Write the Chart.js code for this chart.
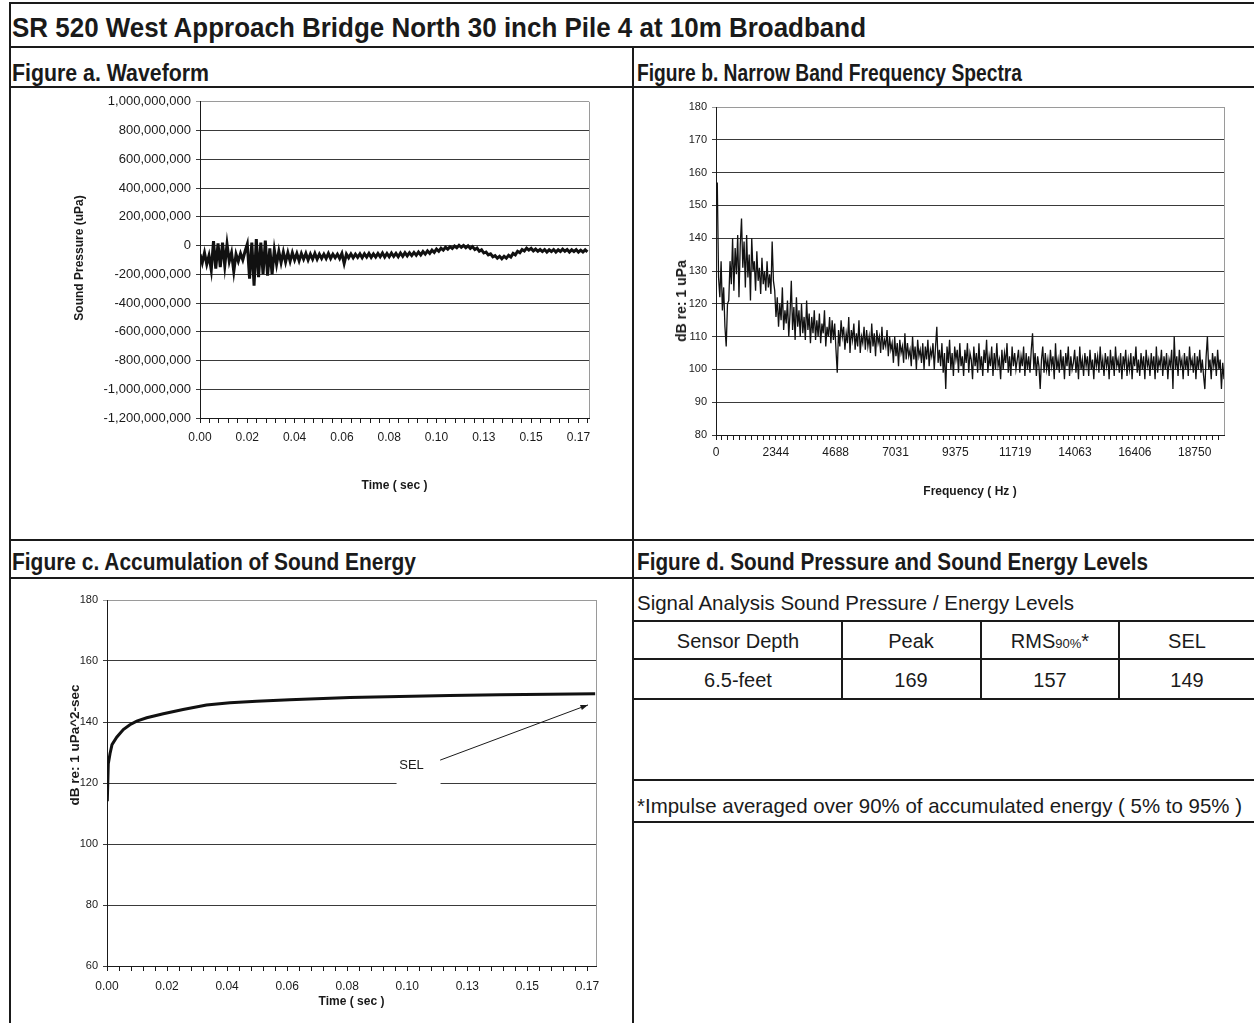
<!DOCTYPE html>
<html lang="en">
<head>
    <meta charset="UTF-8">
    <title>SR 520 West Approach Bridge North 30 inch Pile 4 at 10m Broadband</title>
    <script src="https://cdn.jsdelivr.net/npm/chart.js@4.4.1/dist/chart.umd.min.js"></script>
    <style>
        body { margin: 0; background: #fff; color: #1a1a1a; font-family: "Liberation Sans", Arial, sans-serif; }
        #page { position: relative; width: 1254px; height: 1023px; overflow: hidden; background: #fff; }
        .ln { position: absolute; background: #1a1a1a; }
        .txt { position: absolute; white-space: nowrap; transform-origin: 0 50%; }
        .bold { font-weight: bold; }
        .cell { position: absolute; width: 200px; text-align: center; font-size: 20px; line-height: 24px; white-space: nowrap; }
        .ytitle { position: absolute; white-space: nowrap; font-weight: bold; transform: translate(-50%, -50%) rotate(-90deg); }
        canvas { position: absolute; }
    </style>
</head>
<body>
<div id="page">
    <!-- outer frame and panel dividers -->
    <div class="ln" style="left:9px;top:2px;width:2px;height:1021px"></div>
    <div class="ln" style="left:9px;top:2px;width:1245px;height:2px"></div>
    <div class="ln" style="left:9px;top:46px;width:1245px;height:2px"></div>
    <div class="ln" style="left:9px;top:86px;width:1245px;height:2px"></div>
    <div class="ln" style="left:632px;top:46px;width:2px;height:977px"></div>
    <div class="ln" style="left:9px;top:539px;width:1245px;height:2px"></div>
    <div class="ln" style="left:9px;top:577px;width:1245px;height:2px"></div>

    <!-- figure d table lines -->
    <div class="ln" style="left:632px;top:620px;width:622px;height:2px"></div>
    <div class="ln" style="left:632px;top:658px;width:622px;height:2px"></div>
    <div class="ln" style="left:632px;top:698px;width:622px;height:2px"></div>
    <div class="ln" style="left:632px;top:779px;width:622px;height:2px"></div>
    <div class="ln" style="left:632px;top:821px;width:622px;height:2px"></div>
    <div class="ln" style="left:841px;top:620px;width:2px;height:80px"></div>
    <div class="ln" style="left:980px;top:620px;width:2px;height:80px"></div>
    <div class="ln" style="left:1118px;top:620px;width:2px;height:80px"></div>

    <div class="txt bold" data-w="854" style="left:12px;top:13px;font-size:28px;line-height:30px">SR 520 West Approach Bridge North 30 inch Pile 4 at 10m Broadband</div>
    <div class="txt bold" data-w="197" style="left:12px;top:60px;font-size:23px;line-height:26px">Figure a. Waveform</div>
    <div class="txt bold" data-w="385" style="left:637px;top:60px;font-size:23px;line-height:26px">Figure b. Narrow Band Frequency Spectra</div>
    <div class="txt bold" data-w="404" style="left:12px;top:549px;font-size:23px;line-height:26px">Figure c. Accumulation of Sound Energy</div>
    <div class="txt bold" data-w="511" style="left:637px;top:549px;font-size:23px;line-height:26px">Figure d. Sound Pressure and Sound Energy Levels</div>

    <div class="txt" data-w="437" style="left:637px;top:590px;font-size:21px;line-height:26px">Signal Analysis Sound Pressure / Energy Levels</div>
    <div class="cell" style="left:638px;top:629px">Sensor Depth</div>
    <div class="cell" style="left:811px;top:629px">Peak</div>
    <div class="cell" style="left:950px;top:629px">RMS<span style="font-size:13px">90%</span>*</div>
    <div class="cell" style="left:1087px;top:629px">SEL</div>
    <div class="cell" style="left:638px;top:668px">6.5-feet</div>
    <div class="cell" style="left:811px;top:668px">169</div>
    <div class="cell" style="left:950px;top:668px">157</div>
    <div class="cell" style="left:1087px;top:668px">149</div>
    <div class="txt" data-w="605" style="left:637px;top:793px;font-size:21px;line-height:26px">*Impulse averaged over 90% of accumulated energy ( 5% to 95% )</div>

    <canvas id="chartA" width="618" height="449" style="left:12px;top:89px"></canvas>
    <canvas id="chartB" width="618" height="449" style="left:636px;top:89px"></canvas>
    <canvas id="chartC" width="618" height="443" style="left:12px;top:580px"></canvas>

    <div class="ytitle" style="left:79px;top:258px;font-size:12px">Sound Pressure (uPa)</div>
    <div class="ytitle" style="left:681px;top:301px;font-size:14px">dB re: 1 uPa</div>
    <div class="ytitle" style="left:74px;top:745px;font-size:13.5px">dB re: 1 uPa^2-sec</div>
</div>

<script>
    // figure a: waveform, one reading per millisecond (values in millions of uPa)
    const waveStepSec = 0.001;
    const waveMillionUPa = [
        -60, -120, -50, -130, -70, -170, 30, -160, 15, -150,
        20, -140, 10, -110, -50, -180, -60, -110, -55, -100,
        -40, 10, -230, 20, -280, 45, -220, 20, -200, 35,
        -210, -20, -200, -30, -130, -40, -120, -45, -115, -50,
        -110, -50, -100, -55, -105, -55, -95, -55, -100, -60,
        -95, -55, -95, -60, -90, -60, -90, -55, -90, -60,
        -85, -60, -90, -55, -125, -60, -85, -58, -85, -60,
        -82, -58, -85, -58, -80, -55, -82, -58, -80, -55,
        -78, -52, -80, -55, -78, -52, -76, -55, -78, -52,
        -75, -50, -72, -50, -70, -48, -68, -45, -65, -42,
        -60, -38, -55, -32, -48, -25, -40, -18, -32, -12,
        -25, -8, -20, -3, -15, 2, -12, 0, -15, -2,
        -20, -8, -28, -18, -40, -30, -52, -45, -65, -58,
        -78, -70, -88, -75, -92, -75, -88, -68, -80, -55,
        -65, -40, -50, -28, -38, -18, -32, -20, -38, -25,
        -40, -28, -42, -28, -45, -30, -42, -28, -45, -30,
        -42, -25, -40, -28, -45, -30, -42, -28, -46, -32,
        -45, -30, -44
    ];
    const pressureTicks = [-1200000000, -1000000000, -800000000, -600000000, -400000000, -200000000,
        0, 200000000, 400000000, 600000000, 800000000, 1000000000];
    const pressureLabels = ['-1,200,000,000', '-1,000,000,000', '-800,000,000', '-600,000,000', '-400,000,000',
        '-200,000,000', '0', '200,000,000', '400,000,000', '600,000,000', '800,000,000', '1,000,000,000'];
    const timeLabels = ['0.00', '0.02', '0.04', '0.06', '0.08', '0.10', '0.13', '0.15', '0.17'];
    const timeLabelStep = 0.021;

    // figure b: narrow band spectrum, one reading per 50 Hz
    const specStepHz = 50;
    const specDb = [
        150, 157, 128, 122, 133, 118, 125, 113, 107, 120,
        121, 133, 126, 140, 124, 137, 129, 141, 122, 138,
        146, 131, 139, 125, 141, 128, 135, 121, 140, 130,
        133, 124, 136, 127, 131, 123, 134, 126, 130, 124,
        133, 125, 129, 123, 139, 127, 124, 116, 122, 113,
        120, 115, 125, 112, 118, 114, 121, 110, 117, 127,
        112, 119, 109, 122, 113, 118, 110, 120, 111, 116,
        109, 121, 112, 117, 108, 116, 111, 118, 109, 115,
        110, 117, 108, 114, 111, 118, 107, 113, 110, 116,
        108, 115, 109, 114, 106, 99, 112, 107, 115, 110,
        113, 106, 111, 108, 116, 105, 112, 109, 114, 106,
        111, 107, 115, 105, 110, 108, 113, 106, 112, 107,
        110, 105, 114, 107, 111, 104, 112, 108, 110, 105,
        113, 106, 109, 107, 112, 104, 110, 106, 108, 102,
        110, 104, 108, 101, 109, 105, 107, 102, 111, 103,
        108, 104, 106, 101, 110, 103, 107, 100, 109, 104,
        106, 102, 108, 100, 107, 103, 109, 101, 106, 104,
        108, 100, 107, 113, 102, 106, 101, 108, 99, 105,
        94, 107, 102, 109, 100, 105, 98, 107, 103, 106,
        99, 108, 101, 104, 98, 106, 102, 108, 99, 105,
        103, 97, 107, 101, 105, 99, 108, 100, 104, 98,
        106, 102, 109, 99, 104, 101, 107, 98, 105, 100,
        108, 101, 103, 97, 106, 100, 105, 102, 108, 99,
        104, 98, 107, 101, 105, 100, 103, 106, 99, 104,
        101, 107, 98, 105, 100, 104, 99, 106, 111, 100,
        105, 98, 104, 101, 94, 103, 107, 99, 105, 100,
        103, 98, 106, 101, 104, 97, 108, 100, 103, 99,
        106, 100, 104, 97, 105, 101, 107, 98, 104, 100,
        102, 106, 99, 104, 97, 107, 100, 103, 98, 105,
        101, 104, 98, 106, 100, 103, 97, 105, 101, 104,
        99, 107, 100, 103, 98, 105, 101, 104, 97, 106,
        100, 104, 98, 107, 101, 103, 99, 105, 97, 104,
        101, 106, 98, 103, 100, 105, 97, 104, 101, 107,
        99, 103, 98, 105, 100, 104, 97, 106, 101, 103,
        98, 105, 100, 104, 97, 107, 99, 103, 101, 106,
        98, 104, 100, 105, 97, 103, 101, 106, 94, 110,
        100, 104, 98, 106, 101, 103, 97, 105, 100, 104,
        98, 107, 101, 103, 99, 105, 97, 104, 100, 106,
        99, 103, 98, 94, 104, 110, 100, 103, 97, 105,
        101, 104, 98, 106, 100, 103, 94, 102, 97
    ];
    const specTicks = [80, 90, 100, 110, 120, 130, 140, 150, 160, 170, 180];
    const specLabels = ['80', '90', '100', '110', '120', '130', '140', '150', '160', '170', '180'];
    const freqLabels = ['0', '2344', '4688', '7031', '9375', '11719', '14063', '16406', '18750'];
    const freqLabelStep = 2343.75;

    // figure c: accumulated sound energy
    const selTimeSec = [0.0001, 0.00045, 0.00105, 0.00175, 0.0034, 0.0057, 0.008, 0.0104, 0.0139, 0.0197,
        0.0266, 0.0348, 0.043, 0.0523, 0.0639, 0.0849, 0.1023, 0.1198, 0.1373, 0.1547, 0.1707];
    const selDb = [114, 126.3, 129.6, 132.6, 135, 137.5, 139.1, 140.3, 141.4, 142.7,
        144.1, 145.6, 146.3, 146.8, 147.3, 148.0, 148.4, 148.7, 148.9, 149.1, 149.3];
    const selTicks = [60, 80, 100, 120, 140, 160, 180];
    const selLabels = ['60', '80', '100', '120', '140', '160', '180'];
    const selNote = { text: 'SEL', at: [0.1065, 125.6], from: [0.1165, 127.5], to: [0.1682, 145.6] };

    // stretch header texts to the widths seen in the original
    document.querySelectorAll('[data-w]').forEach(el => {
        const k = +el.dataset.w / el.getBoundingClientRect().width;
        el.style.transform = `scaleX(${k})`;
    });

    Chart.defaults.font.family = '"Liberation Sans", Arial, sans-serif';
    Chart.defaults.color = '#1a1a1a';

    function stepTicks(max, step) {
        const out = [];
        for (let i = 0; i * step <= max + 1e-9; i++) out.push({ value: i * step });
        return out;
    }

    function xScale(max, minorStep, perLabel, labels, title, height, pad) {
        return {
            type: 'linear', min: 0, max: max,
            afterBuildTicks: s => { s.ticks = stepTicks(max, minorStep); },
            afterFit: s => { s.height = height; },
            ticks: {
                autoSkip: false, maxRotation: 0, minRotation: 0, padding: pad, font: { size: 12 },
                callback: (v, i) => i % perLabel === 0 ? (labels[i / perLabel] ?? '') : ''
            },
            grid: { drawOnChartArea: false, tickLength: 5, color: '#1a1a1a' },
            border: { color: '#1a1a1a' },
            title: { display: true, text: title, padding: 0, font: { size: 12, weight: 'bold' } }
        };
    }

    function yScale(values, labels, width, size) {
        const top = values[values.length - 1];
        return {
            type: 'linear', min: values[0], max: top,
            afterBuildTicks: s => { s.ticks = values.map(v => ({ value: v })); },
            afterFit: s => { s.width = width; },
            ticks: { autoSkip: false, padding: 5, font: { size: size }, callback: (v, i) => labels[i] },
            grid: { tickLength: 4, color: c => c.tick && c.tick.value === top ? '#9a9a9a' : '#3a3a3a' },
            border: { color: '#1a1a1a' }
        };
    }

    // gray right edge of the plot area, like the original
    const plotFrame = {
        id: 'plotFrame',
        beforeDatasetsDraw(chart) {
            const { ctx, chartArea: a } = chart;
            const x = Math.round(a.right) + 0.5;
            ctx.save();
            ctx.strokeStyle = '#9a9a9a';
            ctx.lineWidth = 1;
            ctx.beginPath();
            ctx.moveTo(x, a.top);
            ctx.lineTo(x, a.bottom);
            ctx.stroke();
            ctx.restore();
        }
    };

    // "SEL" label with arrow pointing to the end of the curve
    const selNotePlugin = {
        id: 'selNote',
        afterDatasetsDraw(chart) {
            const { ctx, scales: { x, y } } = chart;
            const tx = x.getPixelForValue(selNote.at[0]), ty = y.getPixelForValue(selNote.at[1]);
            const x1 = x.getPixelForValue(selNote.from[0]), y1 = y.getPixelForValue(selNote.from[1]);
            const x2 = x.getPixelForValue(selNote.to[0]), y2 = y.getPixelForValue(selNote.to[1]);
            ctx.save();
            ctx.fillStyle = '#fff';
            ctx.fillRect(tx - 15, ty - 12, 44, 32);
            ctx.fillStyle = '#1a1a1a';
            ctx.font = '13px "Liberation Sans", Arial, sans-serif';
            ctx.textAlign = 'center';
            ctx.textBaseline = 'middle';
            ctx.fillText(selNote.text, tx, ty);
            ctx.strokeStyle = '#1a1a1a';
            ctx.lineWidth = 1;
            ctx.beginPath();
            ctx.moveTo(x1, y1);
            ctx.lineTo(x2, y2);
            ctx.stroke();
            const ang = Math.atan2(y2 - y1, x2 - x1);
            ctx.beginPath();
            ctx.moveTo(x2, y2);
            ctx.lineTo(x2 - 8 * Math.cos(ang - 0.35), y2 - 8 * Math.sin(ang - 0.35));
            ctx.lineTo(x2 - 8 * Math.cos(ang + 0.35), y2 - 8 * Math.sin(ang + 0.35));
            ctx.closePath();
            ctx.fill();
            ctx.restore();
        }
    };

    const baseOptions = (padding) => ({
        responsive: false,
        animation: false,
        events: [],
        layout: { padding: padding },
        plugins: { legend: { display: false }, tooltip: { enabled: false } },
        elements: { point: { radius: 0 }, line: { tension: 0 } }
    });

    new Chart(document.getElementById('chartA'), {
        type: 'line',
        data: {
            datasets: [{
                data: waveMillionUPa.map((v, i) => ({ x: i * waveStepSec, y: v * 1e6 })),
                borderColor: '#111', borderWidth: 3
            }]
        },
        options: {
            ...baseOptions({ left: 0, top: 12, right: 41, bottom: 45 }),
            scales: {
                x: xScale(0.1727, timeLabelStep / 5, 5, timeLabels, 'Time ( sec )', 75, 7),
                y: yScale(pressureTicks, pressureLabels, 188, 13)
            }
        },
        plugins: [plotFrame]
    });

    new Chart(document.getElementById('chartB'), {
        type: 'line',
        data: {
            datasets: [{
                data: specDb.map((v, i) => ({ x: i * specStepHz, y: v })),
                borderColor: '#111', borderWidth: 1.3
            }]
        },
        options: {
            ...baseOptions({ left: 0, top: 18, right: 30, bottom: 39 }),
            scales: {
                x: xScale(19900, freqLabelStep / 10, 10, freqLabels, 'Frequency ( Hz )', 64, 5),
                y: yScale(specTicks, specLabels, 80, 11)
            }
        },
        plugins: [plotFrame]
    });

    new Chart(document.getElementById('chartC'), {
        type: 'line',
        data: {
            datasets: [{
                data: selTimeSec.map((t, i) => ({ x: t, y: selDb[i] })),
                borderColor: '#111', borderWidth: 3
            }]
        },
        options: {
            ...baseOptions({ left: 0, top: 20, right: 34, bottom: 14 }),
            scales: {
                x: xScale(0.171, timeLabelStep / 5, 5, timeLabels, 'Time ( sec )', 43, 8),
                y: yScale(selTicks, selLabels, 95, 11)
            }
        },
        plugins: [plotFrame, selNotePlugin]
    });
</script>
</body>
</html>
